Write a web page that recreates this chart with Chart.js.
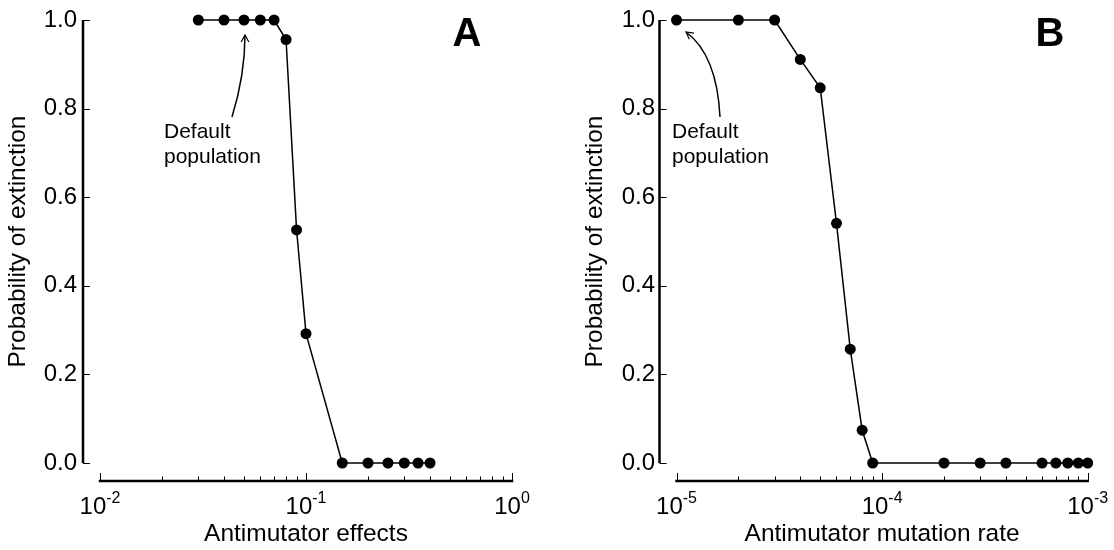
<!DOCTYPE html>
<html>
<head>
<meta charset="utf-8">
<script src="https://cdn.jsdelivr.net/npm/chart.js@4/dist/chart.umd.min.js"></script>
<style>
  html, body { margin: 0; padding: 0; background: #fff; }
  #wrap { position: relative; width: 1114px; height: 550px; }
  canvas { position: absolute; top: 0; }
</style>
</head>
<body>
<div id="wrap">
  <canvas id="chartA" width="557" height="550" style="left:0"></canvas>
  <canvas id="chartB" width="557" height="550" style="left:557px"></canvas>
</div>
<script>
'use strict'
/* global Chart */

// panel A: antimutator effects
const effectsA = [0.03, 0.04, 0.05, 0.06, 0.07, 0.08, 0.09, 0.1, 0.15, 0.2, 0.25, 0.3, 0.35, 0.4]
const extinctionA = [1, 1, 1, 1, 1, 0.956, 0.526, 0.292, 0, 0, 0, 0, 0, 0]

// panel B: antimutator mutation rate
const ratesB = [1e-5, 2e-5, 3e-5, 4e-5, 5e-5, 6e-5, 7e-5, 8e-5, 9e-5, 2e-4, 3e-4, 4e-4, 6e-4, 7e-4, 8e-4, 9e-4, 1e-3]
const extinctionB = [1, 1, 1, 0.911, 0.847, 0.541, 0.257, 0.074, 0, 0, 0, 0, 0, 0, 0, 0, 0]

const yTicks = [0, 0.2, 0.4, 0.6, 0.8, 1.0]
const rangeA = [1e-2, 1e0]
const rangeB = [1e-5, 1e-3]
const defaultA = 0.05
const defaultB = 1e-5

const FONT = "'Liberation Sans', Arial, Helvetica, sans-serif"

// axes drawn detached from the plot area, plus labels and annotation
const offsetAxes = {
  id: 'offsetAxes',
  afterDraw (chart, args, opts) {
    const { ctx, chartArea } = chart
    const x = chart.scales.x
    const y = chart.scales.y
    const axisX = chartArea.left - 17
    const axisY = chartArea.bottom + 18
    ctx.save()
    ctx.strokeStyle = '#000'
    ctx.fillStyle = '#000'
    ctx.lineCap = 'butt'

    ctx.lineWidth = 2.5
    ctx.beginPath()
    ctx.moveTo(axisX, y.getPixelForValue(0))
    ctx.lineTo(axisX, y.getPixelForValue(1))
    ctx.moveTo(x.getPixelForValue(x.min) - 1.25, axisY)
    ctx.lineTo(x.getPixelForValue(x.max) + 1.25, axisY)
    ctx.stroke()

    ctx.lineWidth = 1
    ctx.beginPath()
    yTicks.forEach(v => {
      const py = Math.round(y.getPixelForValue(v)) + 0.5
      ctx.moveTo(axisX, py)
      ctx.lineTo(axisX + 7, py)
    })
    const d0 = Math.round(Math.log10(x.min))
    const d1 = Math.round(Math.log10(x.max))
    for (let d = d0; d <= d1; d++) {
      for (let m = 1; m <= 9; m++) {
        const v = m * Math.pow(10, d)
        if (v > x.max * 1.0001) break
        const px = Math.round(x.getPixelForValue(v)) + 0.5
        ctx.moveTo(px, axisY)
        ctx.lineTo(px, axisY - (m === 1 ? 8 : 4.5))
      }
    }
    ctx.stroke()

    // decade labels with superscript exponent
    ctx.textBaseline = 'alphabetic'
    ctx.textAlign = 'left'
    for (let d = d0; d <= d1; d++) {
      const px = x.getPixelForValue(Math.pow(10, d))
      const exp = String(d)
      ctx.font = `24px ${FONT}`
      const wb = ctx.measureText('10').width
      ctx.font = `16px ${FONT}`
      const we = ctx.measureText(exp).width
      const start = px - (wb + we) / 2
      ctx.font = `24px ${FONT}`
      ctx.fillText('10', start, axisY + 33)
      ctx.font = `16px ${FONT}`
      ctx.fillText(exp, start + wb, axisY + 22)
    }

    // panel letter
    ctx.font = `bold 40px ${FONT}`
    ctx.textAlign = 'center'
    ctx.fillText(opts.letter, chartArea.right - opts.letterDx, 46)

    // "Default population" annotation
    const ax = x.getPixelForValue(opts.anchor)
    const ay = y.getPixelForValue(1)
    const [tx, ty] = opts.tail
    const [cx, cy] = opts.ctrl
    const [hx, hy] = opts.tip
    ctx.lineWidth = 1.5
    ctx.beginPath()
    ctx.moveTo(ax + tx, ay + ty)
    ctx.quadraticCurveTo(ax + cx, ay + cy, ax + hx, ay + hy)
    ctx.stroke()
    const ang = Math.atan2(hy - cy, hx - cx)
    ctx.lineWidth = 1.2
    ctx.beginPath()
    ctx.moveTo(ax + hx - 8 * Math.cos(ang - 0.5), ay + hy - 8 * Math.sin(ang - 0.5))
    ctx.lineTo(ax + hx, ay + hy)
    ctx.lineTo(ax + hx - 8 * Math.cos(ang + 0.5), ay + hy - 8 * Math.sin(ang + 0.5))
    ctx.stroke()
    ctx.font = `21px ${FONT}`
    ctx.textAlign = 'left'
    ctx.fillText('Default', ax + opts.text[0], ay + opts.text[1])
    ctx.fillText('population', ax + opts.text[0], ay + opts.text[1] + 25)
    ctx.restore()
  }
}

const makePanel = (id, xs, ys, range, xTitle, p) => new Chart(document.getElementById(id), {
  type: 'line',
  data: {
    datasets: [{
      data: xs.map((v, i) => ({ x: v, y: ys[i] })),
      borderColor: '#000',
      borderWidth: 1.5,
      backgroundColor: '#000',
      pointRadius: 5.5,
      pointBorderWidth: 0,
      pointBackgroundColor: '#000',
      tension: 0,
      clip: false
    }]
  },
  options: {
    responsive: false,
    animation: false,
    devicePixelRatio: 1,
    layout: { padding: { left: p.padLeft, right: p.padRight, top: 20, bottom: 0 } },
    plugins: {
      legend: { display: false },
      tooltip: { enabled: false },
      offsetAxes: p.note
    },
    scales: {
      x: {
        type: 'logarithmic',
        min: range[0],
        max: range[1],
        grid: { display: false },
        border: { display: false },
        ticks: { display: false },
        title: {
          display: true,
          text: xTitle,
          color: '#000',
          font: { family: FONT, size: 24.5, lineHeight: 1.2 },
          padding: { top: 0, bottom: 1 }
        },
        afterFit: s => { s.height = 87 }
      },
      y: {
        min: 0,
        max: 1,
        grid: { display: false, drawTicks: false },
        border: { display: false },
        afterBuildTicks: s => { s.ticks = yTicks.map(v => ({ value: v })) },
        ticks: {
          color: '#000',
          padding: p.tickPad,
          font: { family: FONT, size: 24 },
          callback: v => Number(v).toFixed(1)
        },
        title: {
          display: true,
          text: 'Probability of extinction',
          color: '#000',
          font: { family: FONT, size: 24.5, lineHeight: 1.2 },
          padding: { top: 3.5, bottom: 0 }
        },
        afterFit: s => {
          s.width = p.yWidth
          // labels sit beside the detached axis, so no extra room above/below the plot
          s.paddingTop = 0
          s.paddingBottom = 0
        }
      }
    }
  },
  plugins: [offsetAxes]
})

makePanel('chartA', effectsA, extinctionA, rangeA, 'Antimutator effects', {
  padLeft: 0,
  padRight: 45,
  yWidth: 100,
  tickPad: 23,
  note: { letter: 'A', letterDx: 45, anchor: defaultA, tip: [1, 15], ctrl: [1, 55], tail: [-12, 97], text: [-80, 118] }
})

makePanel('chartB', ratesB, extinctionB, rangeB, 'Antimutator mutation rate', {
  padLeft: 20,
  padRight: 26.3,
  yWidth: 99.5,
  tickPad: 21.5,
  note: { letter: 'B', letterDx: 37.7, anchor: defaultB, tip: [9.5, 12], ctrl: [40.5, 35], tail: [43.5, 97], text: [-4.5, 118] }
})
</script>
</body>
</html>
